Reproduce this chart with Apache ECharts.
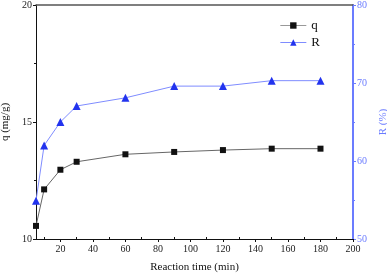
<!DOCTYPE html>
<html><head><meta charset="utf-8">
<script src="https://cdn.jsdelivr.net/npm/echarts@6/dist/echarts.min.js"></script>
<style>html,body{margin:0;padding:0;background:#fff}#c{width:387px;height:277px}</style>
</head><body><div id="c"></div>
<script>
const times = [5, 10, 20, 30, 60, 90, 120, 150, 180];
const qValues = [10.56, 12.12, 12.96, 13.3, 13.62, 13.72, 13.8, 13.86, 13.86];
const rValues = [54.9, 62.0, 65.0, 67.05, 68.1, 69.6, 69.6, 70.3, 70.3];
const xMajorTicks = [20, 40, 60, 80, 100, 120, 140, 160, 180, 200];
const xMinorTicks = [10, 30, 50, 70, 90, 110, 130, 150, 170, 190];

const font = 'Liberation Serif';
const blue = '#6b7cff';
const chart = echarts.init(document.getElementById('c'));
chart.setOption({
  animation: false,
  grid: {left: 36, right: 34, top: 5, bottom: 38, outerBoundsMode: 'none', containLabel: false},
  legend: {
    orient: 'vertical', right: 62, top: 14, itemGap: 4, itemWidth: 26, itemHeight: 8,
    textStyle: {fontFamily: font, fontSize: 13, color: '#111'},
    data: [
      {name: 'q', itemStyle: {color: '#111'}, lineStyle: {color: '#999', width: 1}},
      {name: 'R', itemStyle: {color: '#2233ee'}, lineStyle: {color: '#7f8cff', width: 1}}
    ]
  },
  xAxis: [
    {type: 'value', min: 5, max: 200, position: 'bottom',
     name: 'Reaction time (min)', nameLocation: 'middle', nameGap: 23,
     nameTextStyle: {fontFamily: font, fontSize: 11, color: '#111'},
     axisLine: {lineStyle: {color: '#111', width: 1}},
     axisTick: {customValues: xMajorTicks, length: 3, lineStyle: {color: '#111'}},
     axisLabel: {customValues: xMajorTicks, fontFamily: font, fontSize: 10, color: '#222', margin: 5},
     splitLine: {show: false}},
    {type: 'value', min: 5, max: 200, position: 'bottom',
     axisLine: {show: false},
     axisTick: {customValues: xMinorTicks, inside: true, length: 2, lineStyle: {color: '#111'}},
     axisLabel: {show: false}, splitLine: {show: false}},
    {type: 'value', min: 5, max: 200, position: 'top',
     axisLine: {lineStyle: {color: '#555', width: 1.5}},
     axisTick: {show: false}, axisLabel: {show: false}, splitLine: {show: false}}
  ],
  yAxis: [
    {type: 'value', min: 10, max: 20, interval: 5, position: 'left',
     name: 'q (mg/g)', nameLocation: 'middle', nameGap: 24,
     nameTextStyle: {fontFamily: font, fontSize: 11, color: '#111'},
     axisLine: {show: true, lineStyle: {color: '#111', width: 1}},
     axisTick: {show: true, length: 3, lineStyle: {color: '#111'}},
     minorTick: {show: true, splitNumber: 2, length: 2, lineStyle: {color: '#111'}},
     axisLabel: {fontFamily: font, fontSize: 10, color: '#222', margin: 4},
     splitLine: {show: false}},
    {type: 'value', min: 50, max: 80, interval: 10, position: 'right',
     name: 'R (%)', nameLocation: 'middle', nameGap: 24, nameRotate: 90,
     nameTextStyle: {fontFamily: font, fontSize: 11, color: blue},
     axisLine: {show: true, lineStyle: {color: blue, width: 2}},
     axisTick: {show: true, length: 3, lineStyle: {color: blue}},
     minorTick: {show: true, splitNumber: 2, length: 2, lineStyle: {color: blue}},
     axisLabel: {fontFamily: font, fontSize: 10, color: blue, margin: 4},
     splitLine: {show: false}}
  ],
  series: [
    {name: 'q', type: 'line', xAxisIndex: 0, yAxisIndex: 0,
     data: times.map((t, i) => [t, qValues[i]]),
     symbol: 'rect', symbolSize: 6,
     lineStyle: {color: '#666', width: 1}, itemStyle: {color: '#111'}},
    {name: 'R', type: 'line', xAxisIndex: 0, yAxisIndex: 1,
     data: times.map((t, i) => [t, rValues[i]]),
     symbol: 'triangle', symbolSize: 8,
     lineStyle: {color: '#7f8cff', width: 1}, itemStyle: {color: '#2233ee'}}
  ]
});
</script></body></html>
